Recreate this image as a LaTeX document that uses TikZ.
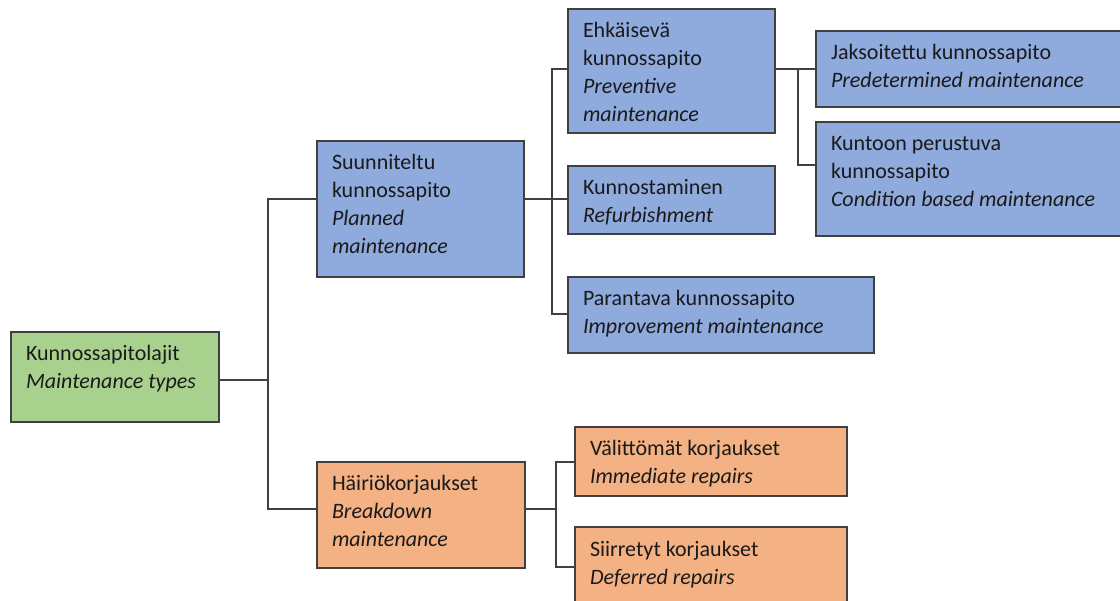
\documentclass[tikz,border=0pt]{standalone}
\usepackage{fontspec}
\setmainfont{Carlito}
\definecolor{grn}{HTML}{A9D18E}
\definecolor{blu}{HTML}{8FAADC}
\definecolor{org}{HTML}{F4B183}
\definecolor{bordc}{HTML}{404040}
\definecolor{txtc}{HTML}{1A1A1A}
\tikzset{
  box/.style={draw=bordc, line width=1.3pt, inner sep=0pt, outer sep=0pt},
  txt/.style={anchor=north west, inner sep=0pt, outer sep=0pt, align=left, text=txtc,
    font=\fontsize{22}{28}\selectfont},
  conn/.style={draw=bordc, line width=1.2pt}
}
\begin{document}
\begin{tikzpicture}[x=1pt,y=-1pt]
\useasboundingbox (0,0) rectangle (1120,601);
\clip (0,0) rectangle (1120,601);
\fill[white] (0,0) rectangle (1120,601);
% boxes
\node[box, fill=grn, minimum width=208pt, minimum height=90pt] (root) at (115,377) {};
\node[box, fill=blu, minimum width=207pt, minimum height=136pt] (plan) at (420.5,209) {};
\node[box, fill=org, minimum width=208pt, minimum height=106pt] (brk) at (421,515) {};
\node[box, fill=blu, minimum width=207pt, minimum height=124pt] (prev) at (671.5,71) {};
\node[box, fill=blu, minimum width=207pt, minimum height=68pt] (refu) at (671.5,200) {};
\node[box, fill=blu, minimum width=306pt, minimum height=76pt] (impr) at (721,315) {};
\node[box, fill=blu, minimum width=314pt, minimum height=76pt] (pred) at (973,69) {};
\node[box, fill=blu, minimum width=314pt, minimum height=114pt] (cond) at (973,179) {};
\node[box, fill=org, minimum width=272pt, minimum height=69pt] (imm) at (711,461.5) {};
\node[box, fill=org, minimum width=272pt, minimum height=80pt] (def) at (711,567) {};
% texts
\node[txt] (rootT) at (26,341.4) {\strut Kunnossapitolajit\\\textit{Maintenance types}};
\node[txt] (planT) at (332,150.4) {\strut Suunniteltu\\kunnossapito\\\textit{Planned}\\\textit{maintenance}};
\node[txt] (brkT) at (332,471.4) {\strut Häiriökorjaukset\\\textit{Breakdown}\\\textit{maintenance}};
\node[txt] (prevT) at (583,18.4) {\strut Ehkäisevä\\kunnossapito\\\textit{Preventive}\\\textit{maintenance}};
\node[txt] (refuT) at (583,175.4) {\strut Kunnostaminen\\\textit{Refurbishment}};
\node[txt] (imprT) at (583,286.4) {\strut Parantava kunnossapito\\\textit{Improvement maintenance}};
\node[txt] (predT) at (831,40.4) {\strut Jaksoitettu kunnossapito\\\textit{Predetermined maintenance}};
\node[txt] (condT) at (831,131.4) {\strut Kuntoon perustuva\\kunnossapito\\\textit{Condition based maintenance}};
\node[txt] (immT) at (590,436.4) {\strut Välittömät korjaukset\\\textit{Immediate repairs}};
\node[txt] (defT) at (590,536.4) {\strut Siirretyt korjaukset\\\textit{Deferred repairs}};
% connectors
\draw[conn] ([yshift=-3pt]root.east) -- ++(49,0);
\draw[conn] ([yshift=10pt]plan.west) -- ++(-49,0) |- ([yshift=6pt]brk.west);
\draw[conn] ([yshift=10pt]plan.east) -- ([yshift=1pt]refu.west);
\draw[conn] ([yshift=2pt]prev.west) -- ++(-16,0) |- ([yshift=1pt]impr.west);
\draw[conn] ([yshift=2pt]prev.east) -- (pred.west);
\draw[conn] ([yshift=2pt]prev.east) ++(23,0) |- ([yshift=14pt]cond.west);
\draw[conn] ([yshift=6pt]brk.east) -- ++(31,0);
\draw[conn] ([yshift=-0.5pt]imm.west) -- ++(-19,0) |- (def.west);
\end{tikzpicture}
\end{document}
